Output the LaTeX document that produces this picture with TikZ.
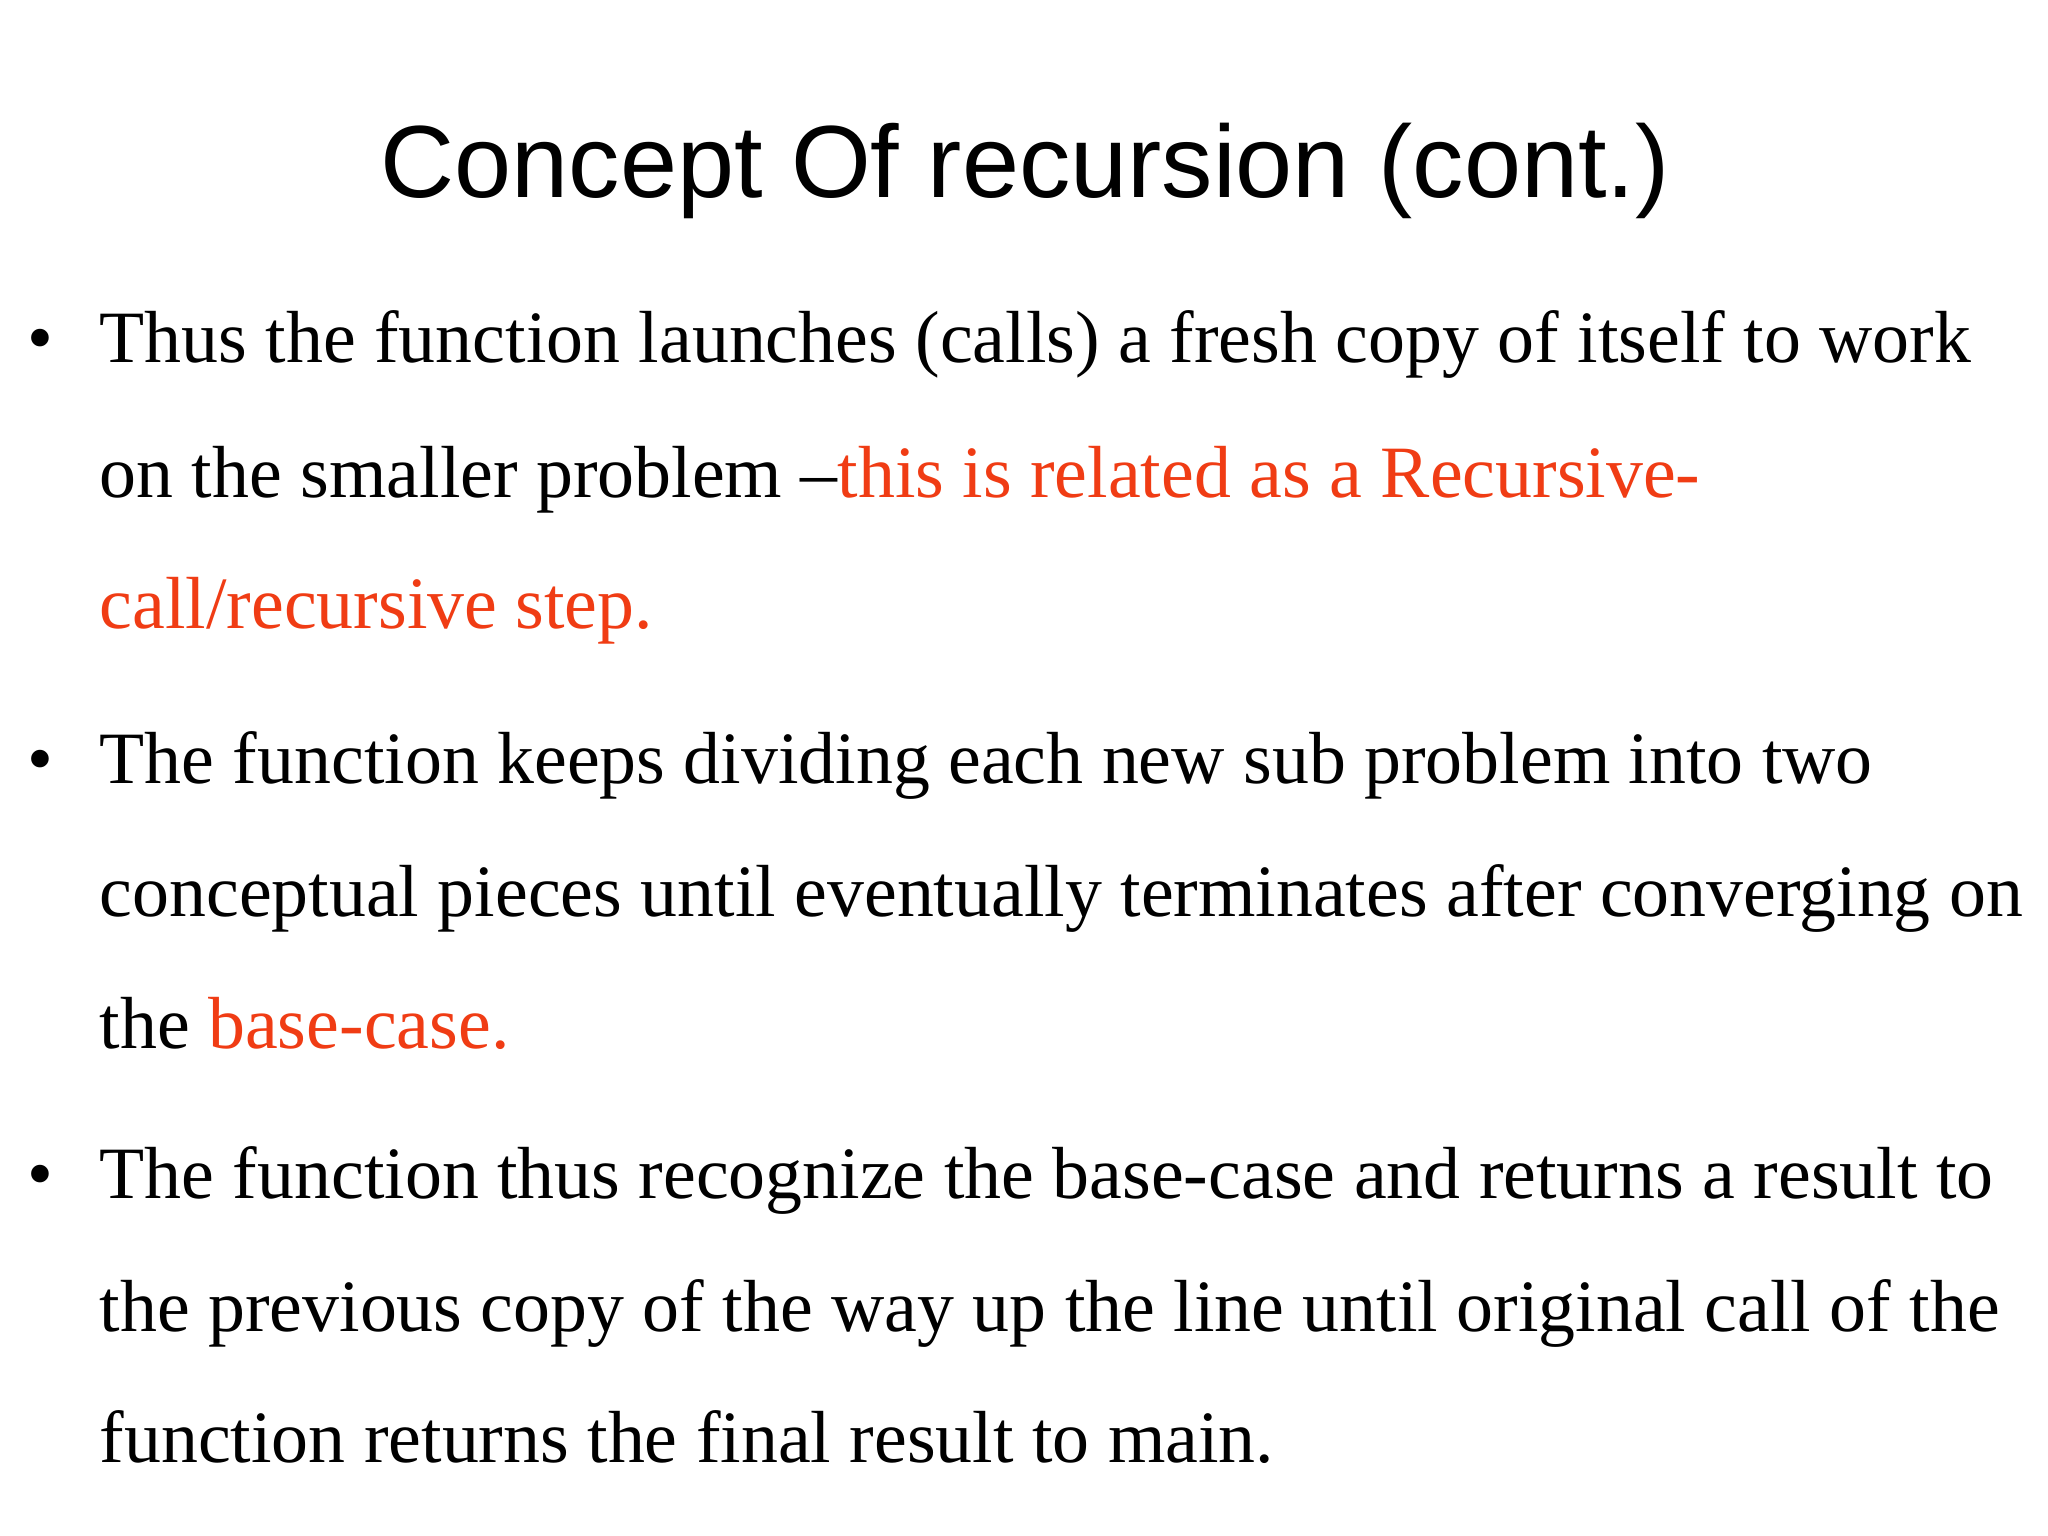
\documentclass[tikz,border=0pt]{standalone}
\usepackage{fontspec}
\setmainfont{Liberation Serif}
\newfontfamily\titlefont{Liberation Sans}
\definecolor{hl}{RGB}{240,60,20}
\begin{document}
\begin{tikzpicture}[x=1cm,y=1cm,
  ln/.style={anchor=base west,inner sep=0pt,font=\fontsize{21}{25}\selectfont},
  bul/.style={anchor=base,inner sep=0pt,font=\fontsize{21}{25}\selectfont}]
\useasboundingbox (0,0) rectangle (20.48,15.36);
\fill[white] (0,0) rectangle (20.48,15.36);
\node[anchor=base,inner sep=0pt,font=\titlefont\fontsize{29.2}{34}\selectfont] (title) at (10.25,13.38) {Concept Of recursion (cont.)};
\node[bul] (b1) at (0.40,11.73) {•};
\node[bul] (b2) at (0.40,7.52) {•};
\node[bul] (b3) at (0.40,3.37) {•};
\node[ln] (l1) at (0.99,11.73) {Thus the function launches (calls) a fresh copy of itself to work};
\node[ln] (l2) at (0.99,10.38) {on the smaller problem –\textcolor{hl}{this is related as a Recursive-}};
\node[ln] (l3) at (0.99,9.07) {\textcolor{hl}{call/recursive step.}};
\node[ln] (l4) at (0.99,7.52) {The function keeps dividing each new sub problem into two};
\node[ln] (l5) at (0.99,6.19) {conceptual pieces until eventually terminates after converging on};
\node[ln] (l6) at (0.99,4.87) {the \textcolor{hl}{base-case.}};
\node[ln] (l7) at (0.99,3.37) {The function thus recognize the base-case and returns a result to};
\node[ln] (l8) at (0.99,2.04) {the previous copy of the way up the line until original call of the};
\node[ln] (l9) at (0.99,0.73) {function returns the final result to main.};
\end{tikzpicture}
\end{document}
